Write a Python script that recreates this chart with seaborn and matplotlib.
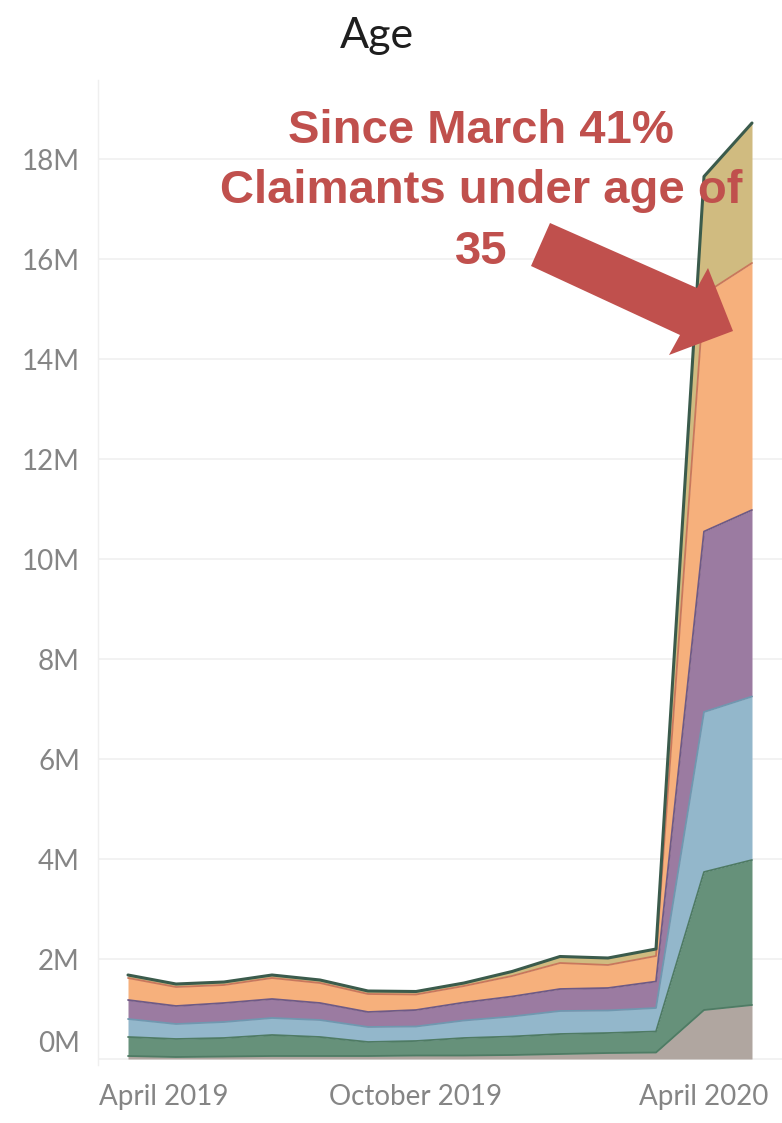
import numpy as np
import pandas as pd
import matplotlib
matplotlib.use("Agg")
import matplotlib.pyplot as plt
import matplotlib.transforms as mtransforms
from matplotlib.patches import Polygon
import seaborn as sns

# ---------------- data (millions of claimants, monthly) ----------------
months = ["Apr 2019", "May 2019", "Jun 2019", "Jul 2019", "Aug 2019", "Sep 2019",
          "Oct 2019", "Nov 2019", "Dec 2019", "Jan 2020", "Feb 2020", "Mar 2020",
          "Apr 2020", "May 2020"]
tick_positions = [0, 6, 12]
tick_labels = ["April 2019", "October 2019", "April 2020"]

age_layer_1 = [0.06, 0.04, 0.05, 0.06, 0.06, 0.06, 0.07, 0.07, 0.08, 0.10, 0.12, 0.13, 0.98, 1.08]
age_layer_2 = [0.38, 0.36, 0.37, 0.42, 0.38, 0.28, 0.29, 0.35, 0.37, 0.40, 0.40, 0.42, 2.76, 2.90]
age_layer_3 = [0.36, 0.30, 0.32, 0.34, 0.34, 0.30, 0.29, 0.35, 0.40, 0.46, 0.45, 0.47, 3.20, 3.27]
age_layer_4 = [0.38, 0.36, 0.38, 0.38, 0.34, 0.30, 0.33, 0.36, 0.40, 0.44, 0.45, 0.53, 3.61, 3.73]
age_layer_5 = [0.44, 0.38, 0.36, 0.42, 0.40, 0.36, 0.31, 0.33, 0.41, 0.52, 0.46, 0.51, 4.75, 4.94]
age_layer_6 = [0.06, 0.06, 0.06, 0.06, 0.06, 0.06, 0.06, 0.06, 0.09, 0.13, 0.14, 0.14, 2.35, 2.80]

y_ticks = [0, 2, 4, 6, 8, 10, 12, 14, 16, 18]
y_tick_labels = ["0M", "2M", "4M", "6M", "8M", "10M", "12M", "14M", "16M", "18M"]

fill_colors = ["#b0a6a0", "#66917a", "#93b7cb", "#9b7ba1", "#f6b07c", "#d0bb80"]
edge_colors = ["#4f7b64", "#4f7b64", "#6f98b0", "#6e5a86", "#c9775c", "#d89a62"]
top_color = "#3b5b4c"

layers = [age_layer_1, age_layer_2, age_layer_3, age_layer_4, age_layer_5, age_layer_6]
x = np.arange(len(months))
cum = np.cumsum(np.array(layers), axis=0)

# ---------------- figure ----------------
sns.set_theme(style="white")
plt.rcParams["font.family"] = ["Lato", "DejaVu Sans"]

W, H = 782, 1123
fig = plt.figure(figsize=(W / 100, H / 100), dpi=100)
fig.patch.set_facecolor("white")
ax_left, ax_right, ax_top, ax_bottom = 98, 782, 80, 1065
ax = fig.add_axes([ax_left / W, 1 - ax_bottom / H, (ax_right - ax_left) / W, (ax_bottom - ax_top) / H])

ax.stackplot(x, *layers, colors=fill_colors, linewidth=0, zorder=2)

# boundary lines
for i in range(len(layers) - 1):
    d = pd.DataFrame({"x": x, "y": cum[i]})
    sns.lineplot(data=d, x="x", y="y", ax=ax, color=edge_colors[i], linewidth=1.3, zorder=3)
d = pd.DataFrame({"x": x, "y": cum[-1]})
sns.lineplot(data=d, x="x", y="y", ax=ax, color=top_color, linewidth=2.2, zorder=4)

ax.set_xlim(-30 / 48.0, 13 + 30 / 48.0)
zero_px = 1059
ax.set_ylim(-(ax_bottom - zero_px) / 50.0, (zero_px - ax_top) / 50.0)

ax.set_yticks(y_ticks)
ax.set_yticklabels(y_tick_labels)
ax.set_xticks(tick_positions)
ax.set_xticklabels(tick_labels)
ax.set_xlabel("")
ax.set_ylabel("")

ax.yaxis.grid(True, color="#f0f0f0", linewidth=1.2, zorder=0)
ax.xaxis.grid(False)
ax.set_axisbelow(True)
for s in ["top", "right", "bottom"]:
    ax.spines[s].set_visible(False)
ax.spines["left"].set_color("#efefef")
ax.spines["left"].set_linewidth(1)

ax.tick_params(axis="y", length=0, pad=13, labelsize=20, labelcolor="#858585")
ax.tick_params(axis="x", length=0, pad=14, labelsize=20, labelcolor="#858585")
for lab in ax.get_yticklabels() + ax.get_xticklabels():
    lab.set_fontweight("normal")

# Tableau-style label nudges
yl = ax.get_yticklabels()
yl[0].set_transform(yl[0].get_transform() + mtransforms.ScaledTranslation(0, 18 / 100, fig.dpi_scale_trans))
xl = ax.get_xticklabels()
xl[0].set_transform(xl[0].get_transform() + mtransforms.ScaledTranslation(36 / 100, 0, fig.dpi_scale_trans))

# title
fig.text(377 / W, 1 - 48 / H, "Age", ha="center", va="baseline", fontsize=31,
         fontweight="normal", color="#1e1e1e")

# annotation text
red = "#c0504d"
ann_lines = ["Since March 41%", "Claimants under age of", "35"]
baselines = [143, 203, 264]
for t, b in zip(ann_lines, baselines):
    fig.text(481 / W, 1 - b / H, t, ha="center", va="baseline", fontsize=34,
             fontweight="bold", color=red, family=["Liberation Sans", "DejaVu Sans"], zorder=10)

# arrow
arrow_px = [(550, 223), (697, 288), (708, 268), (733, 331), (669, 355), (680, 335), (531, 266)]
arrow = Polygon([(px / W, 1 - py / H) for px, py in arrow_px], closed=True,
                transform=fig.transFigure, facecolor=red, edgecolor="none", zorder=9)
fig.add_artist(arrow)

fig.savefig("out.png", dpi=100)
